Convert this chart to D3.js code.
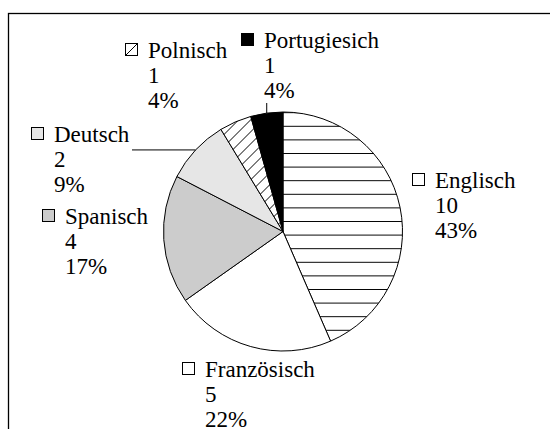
<!DOCTYPE html>
<html>
<head>
<meta charset="utf-8">
<script src="https://cdn.jsdelivr.net/npm/d3@7"></script>
<style>
  body { margin: 0; }
  #chart { position: relative; width: 550px; height: 429px; overflow: hidden; }
  #chart svg { position: absolute; left: 0; top: 0; }
  .lbl { position: absolute; font-family: 'Liberation Serif'; font-size: 23px; line-height: 25px; color: #000; white-space: nowrap; }
</style>
</head>
<body>
<div id="chart"></div>
<script>
// languages, counts, percentage labels (clockwise from 12 o'clock)
var languages = ["Englisch", "Französisch", "Spanisch", "Deutsch", "Polnisch", "Portugiesich"]
var counts = [10, 5, 4, 2, 1, 1]
var percents = ["43%", "22%", "17%", "9%", "4%", "4%"]

var width = 550, height = 429
var cx = 283, cy = 231.5, radius = 119.5

// fills per slice
var fills = {
  Englisch: "url(#hlines)",
  "Französisch": "#ffffff",
  Spanisch: "#cccccc",
  Deutsch: "#e6e6e6",
  Polnisch: "url(#diag)",
  Portugiesich: "#000000"
}
var keyFills = {
  Englisch: "#ffffff",
  "Französisch": "#ffffff",
  Spanisch: "#cccccc",
  Deutsch: "#e6e6e6",
  Polnisch: "#ffffff",
  Portugiesich: "#000000"
}

// label block: key square left x, first baseline
var labelPos = {
  Englisch: {x: 412, y: 187},
  "Französisch": {x: 182, y: 376},
  Spanisch: {x: 42, y: 223},
  Deutsch: {x: 31, y: 141},
  Polnisch: {x: 125, y: 57},
  Portugiesich: {x: 241, y: 47}
}

var chart = d3.select("#chart")
var svg = chart.append("svg")
  .attr("width", width).attr("height", height)

var data = languages.map(function(d, i) {
  return {name: d, value: counts[i], pct: percents[i]}
})

var defs = svg.append("defs")
var hl = defs.append("pattern").attr("id", "hlines")
  .attr("patternUnits", "userSpaceOnUse")
  .attr("x", 0).attr("y", 125.5)
  .attr("width", 20).attr("height", 13.6)
hl.append("rect").attr("width", 20).attr("height", 13.6).attr("fill", "#fff")
hl.append("line").attr("x1", 0).attr("x2", 20).attr("y1", 0.5).attr("y2", 0.5)
  .attr("stroke", "#000").attr("stroke-width", 1)

var dg = defs.append("pattern").attr("id", "diag")
  .attr("patternUnits", "userSpaceOnUse")
  .attr("width", 12).attr("height", 12)
dg.append("rect").attr("width", 12).attr("height", 12).attr("fill", "#fff")
dg.append("path").attr("d", "M-3,3 L3,-3 M0,12 L12,0 M9,15 L15,9")
  .attr("stroke", "#000").attr("stroke-width", 1)

// key squares
svg.selectAll("rect.key")
  .data(data)
  .enter()
  .append("rect")
  .attr("class", "key")
  .attr("x", function(d) { return labelPos[d.name].x + 0.5 })
  .attr("y", function(d) { return labelPos[d.name].y - 13.5 })
  .attr("width", 12).attr("height", 12)
  .attr("fill", function(d) { return keyFills[d.name] })
  .attr("stroke", "#000").attr("stroke-width", 1)

var pp = labelPos["Polnisch"]
svg.append("line")
  .attr("x1", pp.x + 1).attr("y1", pp.y - 2).attr("x2", pp.x + 12).attr("y2", pp.y - 13)
  .attr("stroke", "#000").attr("stroke-width", 1)

// frame (clipped at right and bottom)
svg.append("rect")
  .attr("x", 8.5).attr("y", 13.5)
  .attr("width", 600).attr("height", 500)
  .attr("fill", "none").attr("stroke", "#000").attr("stroke-width", 1.3)

var pie = d3.pie().sort(null).value(function(d) { return d.value })
var arcs = pie(data)
var arc = d3.arc().innerRadius(0).outerRadius(radius)

var g = svg.append("g").attr("transform", "translate(" + cx + "," + cy + ")")

g.selectAll("path.slice")
  .data(arcs)
  .enter()
  .append("path")
  .attr("class", "slice")
  .attr("d", arc)
  .attr("fill", function(d) { return fills[d.data.name] })
  .attr("stroke", "#000")
  .attr("stroke-width", 1)

// leader lines for Deutsch and Portugiesich
arcs.forEach(function(d) {
  var mid = (d.startAngle + d.endAngle) / 2
  var px = cx + radius * Math.sin(mid)
  var py = cy - radius * Math.cos(mid)
  if (d.data.name == "Deutsch") {
    svg.append("line").attr("x1", px).attr("y1", py).attr("x2", 132).attr("y2", py)
      .attr("stroke", "#000").attr("stroke-width", 1)
  }
  if (d.data.name == "Portugiesich") {
    svg.append("line").attr("x1", px).attr("y1", py).attr("x2", px).attr("y2", 103)
      .attr("stroke", "#000").attr("stroke-width", 1)
  }
})

// label text as html blocks over the svg (baseline ~ top + 19)
chart.selectAll("div.lbl")
  .data(data)
  .enter()
  .append("div")
  .attr("class", "lbl")
  .style("left", function(d) { return (labelPos[d.name].x + 23) + "px" })
  .style("top", function(d) { return (labelPos[d.name].y - 19) + "px" })
  .html(function(d) { return d.name + "<br>" + d.value + "<br>" + d.pct })
</script>
</body>
</html>
